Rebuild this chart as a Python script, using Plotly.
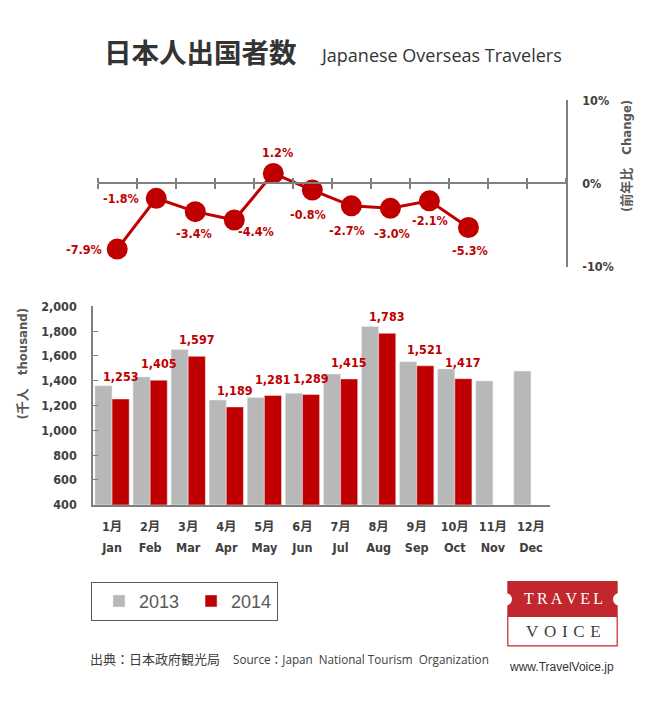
import plotly.graph_objects as go

# ---------------- data ----------------
months_jp = ["1月", "2月", "3月", "4月", "5月", "6月", "7月", "8月", "9月", "10月", "11月", "12月"]
months_en = ["Jan", "Feb", "Mar", "Apr", "May", "Jun", "Jul", "Aug", "Sep", "Oct", "Nov", "Dec"]
travelers_2013 = [1360, 1431, 1653, 1244, 1266, 1299, 1454, 1838, 1554, 1496, 1399, 1478]
travelers_2014 = [1253, 1405, 1597, 1189, 1281, 1289, 1415, 1783, 1521, 1417]
change_pct = [-7.9, -1.8, -3.4, -4.4, 1.2, -0.8, -2.7, -3.0, -2.1, -5.3]
bar_ticks = [400, 600, 800, 1000, 1200, 1400, 1600, 1800, 2000]
change_ticks = [-10, 0, 10]

# ---------------- styles ----------------
W, H = 655, 708
OFF = 8  # page body margin: figure origin sits at (8, 8) on the page
RED = "#C00000"
GRAY_BAR = "#B8B8B8"
AXIS = "#7F7F7F"
TXT = "#404040"
COND = "DejaVu Sans Condensed, DejaVu Sans, Noto Sans CJK JP"
SANS = "Open Sans, Noto Sans CJK JP"


def fx(px):
    return (px - OFF) / W


def fy(py):
    return 1 - (py - OFF) / H


# label offsets (px) for the change labels, per point
label_offsets = [(-33, 0), (-35, 0), (-1, -22), (22, -12), (4, 21),
                 (-4, -24), (-4, -25), (2, -25), (1, -20), (2, -23)]
bar_label_lift = [13, 7, 7, 7, 7, 7, 7, 7, 7, 7]

fig = go.Figure()

fig.add_trace(go.Bar(name="2013", x=months_jp, y=travelers_2013, marker_color=GRAY_BAR,
                     xaxis="x", yaxis="y", hoverinfo="skip"))
fig.add_trace(go.Bar(name="2014", x=months_jp[:len(travelers_2014)], y=travelers_2014,
                     marker_color=RED, xaxis="x", yaxis="y", hoverinfo="skip"))
fig.add_trace(go.Scatter(x=months_jp[:len(change_pct)], y=change_pct, mode="lines+markers",
                         line=dict(color=RED, width=3), marker=dict(color=RED, size=21),
                         xaxis="x2", yaxis="y2", showlegend=False, hoverinfo="skip"))
# empty helper traces so that the overlay axes (English month labels, upward ticks) get drawn
fig.add_trace(go.Scatter(x=list(range(len(months_en))), y=[None] * len(months_en), mode="markers",
                         xaxis="x3", yaxis="y", showlegend=False, hoverinfo="skip"))
fig.add_trace(go.Scatter(x=list(range(len(months_en))), y=[None] * len(months_en), mode="markers",
                         xaxis="x4", yaxis="y2", showlegend=False, hoverinfo="skip"))

LBL_FONT = dict(family=COND, size=12.5, color=RED, weight="bold")
annotations = []
# bar value labels (on 2014 bars)
for i, v in enumerate(travelers_2014):
    annotations.append(dict(x=months_jp[i], y=v, xref="x", yref="y", text=f"{v:,}",
                            showarrow=False, xanchor="center", yanchor="bottom",
                            xshift=8.5, yshift=bar_label_lift[i], font=LBL_FONT))
# change labels
for i, v in enumerate(change_pct):
    dx, dy = label_offsets[i]
    annotations.append(dict(x=months_jp[i], y=v, xref="x2", yref="y2", text=f"{v:.1f}%",
                            showarrow=False, xanchor="center", yanchor="middle",
                            xshift=dx, yshift=dy, font=LBL_FONT))

# titles and texts
annotations += [
    dict(x=fx(102), y=fy(44), xref="paper", yref="paper", text="日本人出国者数", showarrow=False,
         xanchor="left", yanchor="middle",
         font=dict(family="Noto Sans CJK JP", size=27.5, color="#333333", weight="bold")),
    dict(x=fx(318), y=fy(48), xref="paper", yref="paper", text="Japanese Overseas Travelers",
         showarrow=False, xanchor="left", yanchor="middle",
         font=dict(family="Open Sans", size=18, color="#333333")),
    dict(x=fx(627), y=fy(151), xref="paper", yref="paper", text="(前年比\u3000Change)",
         showarrow=False, textangle=-90, xanchor="center", yanchor="middle",
         font=dict(family=COND, size=13, color="#595959", weight="bold")),
    dict(x=fx(22), y=fy(363), xref="paper", yref="paper", text="(千人\u3000thousand)",
         showarrow=False, textangle=-90, xanchor="center", yanchor="middle",
         font=dict(family=COND, size=13, color="#595959", weight="bold")),
    dict(x=fx(88), y=fy(665), xref="paper", yref="paper",
         text="出典：日本政府観光局\u3000<span style='font-size:11.7px'>Source：Japan\u00a0 National Tourism\u00a0 Organization</span>",
         showarrow=False, xanchor="left", yanchor="middle",
         font=dict(family=SANS, size=13, color=TXT)),
    dict(x=fx(563), y=fy(603.5), xref="paper", yref="paper",
         text="T\u2009R\u2009A\u2009V\u2009E\u2009L", showarrow=False,
         xanchor="center", yanchor="middle",
         font=dict(family="Liberation Serif", size=16, color="white")),
    dict(x=fx(563), y=fy(637), xref="paper", yref="paper",
         text="V\u2004O\u2004I\u2004C\u2004E", showarrow=False,
         xanchor="center", yanchor="middle",
         font=dict(family="Liberation Serif", size=17, color="#404040")),
    dict(x=fx(561.7), y=fy(673), xref="paper", yref="paper", text="www.TravelVoice.jp",
         showarrow=False, xanchor="center", yanchor="middle",
         font=dict(family="Liberation Sans", size=12, color="#333333")),
]

LOGO_RED = "#C1272D"
r = 6.5
shapes = [
    dict(type="rect", xref="paper", yref="paper", x0=fx(507.3), x1=fx(617.7), y0=fy(621.3), y1=fy(585.3),
         fillcolor=LOGO_RED, line=dict(width=0)),
    dict(type="rect", xref="paper", yref="paper", x0=fx(507.8), x1=fx(617.2), y0=fy(651.5), y1=fy(621.3),
         fillcolor="white", line=dict(color=LOGO_RED, width=1.2)),
    dict(type="circle", xref="paper", yref="paper", x0=fx(505.5 - r), x1=fx(505.5 + r),
         y0=fy(604 + r), y1=fy(604 - r), fillcolor="white", line=dict(width=0)),
    dict(type="circle", xref="paper", yref="paper", x0=fx(619.5 - r), x1=fx(619.5 + r),
         y0=fy(604 + r), y1=fy(604 - r), fillcolor="white", line=dict(width=0)),
]

tick_font = dict(family=COND, size=12.5, color=TXT, weight="bold")
zero_pos = fy(179)

fig.update_layout(
    width=W, height=H, margin=dict(l=0, r=0, t=0, b=0),
    paper_bgcolor="white", plot_bgcolor="rgba(0,0,0,0)",
    barmode="group", bargap=0.1, bargroupgap=0,
    showlegend=True,
    legend=dict(orientation="h", x=fx(91), y=fy(586), xanchor="left", yanchor="top",
                bordercolor="#595959", borderwidth=1, bgcolor="white",
                font=dict(family="Liberation Sans", size=18, color="#595959"),
                traceorder="normal", indentation=7),
    xaxis=dict(domain=[fx(93), fx(550)], anchor="y", type="category", categoryorder="array",
               categoryarray=months_jp, range=[-0.5, 11.5], showline=True, linecolor=AXIS,
               linewidth=1.5, ticks="", showgrid=False, tickfont=tick_font, ticklabelstandoff=10),
    xaxis3=dict(domain=[fx(93), fx(550)], anchor="y", overlaying="x", type="linear",
                range=[-0.5, 11.5], tickmode="array", tickvals=list(range(len(months_en))),
                ticktext=months_en, showline=False, showgrid=False, zeroline=False, ticks="",
                tickfont=tick_font, ticklabelstandoff=34),
    yaxis=dict(domain=[fy(507.3), fy(304.7)], anchor="x", range=[400, 2000], tickmode="array",
               tickvals=bar_ticks, tickformat=",", ticks="inside", ticklen=5, tickcolor=AXIS,
               showline=True, linecolor=AXIS, linewidth=1.5, showgrid=False, zeroline=False,
               tickfont=tick_font, ticklabelstandoff=12),
    xaxis2=dict(domain=[fx(97.7), fx(566)], anchor="free", position=zero_pos, type="category",
                categoryorder="array", categoryarray=months_jp, range=[-0.5, 11.5],
                tickson="boundaries", ticks="outside", ticklen=5, tickcolor=AXIS, tickwidth=1.5,
                showline=True, linecolor=AXIS, linewidth=1.5, showticklabels=False, showgrid=False),
    xaxis4=dict(domain=[fx(97.7), fx(566)], anchor="free", position=zero_pos, overlaying="x2",
                side="top", type="linear", range=[-0.5, 11.5], tickmode="array",
                tickvals=[i - 0.5 for i in range(len(months_jp) + 1)], ticks="outside", ticklen=5,
                tickcolor=AXIS, tickwidth=1.5, showline=False, showgrid=False, zeroline=False,
                showticklabels=False),
    yaxis2=dict(domain=[fy(264), fy(94)], anchor="x2", side="right", range=[-10, 10],
                tickmode="array", tickvals=change_ticks,
                ticktext=[f"{v}%" for v in change_ticks], ticks="inside", ticklen=5,
                tickcolor=AXIS, showline=True, linecolor=AXIS, linewidth=1.5, showgrid=False,
                zeroline=False, tickfont=tick_font, ticklabelstandoff=12),
    annotations=annotations,
    shapes=shapes,
)

fig.write_html("out.html")
